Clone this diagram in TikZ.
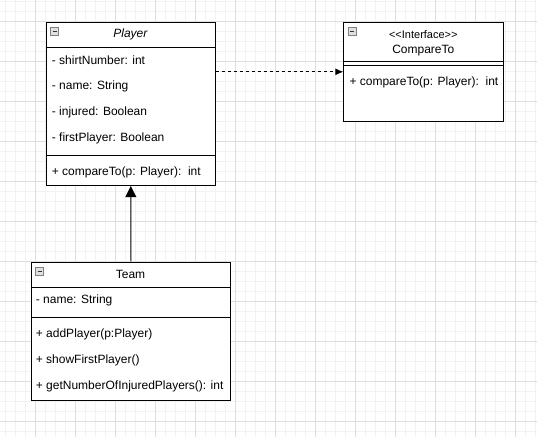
\documentclass[tikz,border=0pt]{standalone}
\usepackage{fontspec}
\setmainfont{Liberation Sans}
\usetikzlibrary{arrows.meta}
\tikzset{
  minorgrid/.style={draw=black!5,line width=0.8pt},
  majorgrid/.style={draw=black!13,line width=0.8pt},
  umlbox/.style={draw=black,line width=0.9pt,fill=white,anchor=north west,inner sep=0pt},
  rowtext/.style={anchor=west,inner sep=0pt,font=\fontsize{12}{14}\selectfont},
  minusicon/.style={draw=black!50,fill=black!12,line width=0.7pt,anchor=north west,
    minimum size=8pt,inner sep=0pt,
    path picture={\draw[black!80,line width=1pt]
      ([xshift=2pt]path picture bounding box.west) -- ([xshift=-2pt]path picture bounding box.east);}},
  sepline/.style={draw=black,line width=0.9pt}
}
\begin{document}
\begin{tikzpicture}[x=1pt,y=-1pt]
	\useasboundingbox (0,0) rectangle (537,437);
	\fill[white] (0,0) rectangle (537,437);
	% grid
	\foreach \g in {0,...,53} \draw[minorgrid] (5.7+10*\g,0) -- (5.7+10*\g,437);
	\foreach \g in {0,...,43} \draw[minorgrid] (0,1.7+10*\g) -- (537,1.7+10*\g);
	\foreach \g in {0,...,13} \draw[majorgrid] (-4.3+40*\g,0) -- (-4.3+40*\g,437);
	\foreach \g in {0,...,10} \draw[majorgrid] (0,21.7+40*\g) -- (537,21.7+40*\g);
	% Player
	\node[umlbox,minimum width=169.3pt,minimum height=163.5pt] (player) at (45.7,21.7) {};
	\node[minusicon] (playericon) at (50.3,26.7) {};
	\node[inner sep=0pt,font=\fontsize{12}{14}\selectfont\itshape] (playertitle) at (130.4,34.7) {Player};
	\draw[sepline] ([yshift=-26pt]player.north west) -- ([yshift=-26pt]player.north east);
	\draw[sepline] ([yshift=-134pt]player.north west) -- ([yshift=-134pt]player.north east);
	\node[rowtext] (pshirt) at (51.7,60.7) {- shirtNumber: int};
	\node[rowtext] (pname) at (51.7,86.7) {- name: String};
	\node[rowtext] (pinjured) at (51.7,112.7) {- injured: Boolean};
	\node[rowtext] (pfirst) at (51.7,138.7) {- firstPlayer: Boolean};
	\node[rowtext] (pcompare) at (51.7,172.7) {+ compareTo(p: Player):~~int};
	% CompareTo
	\node[umlbox,minimum width=160pt,minimum height=99.3pt] (iface) at (343.3,21.7) {};
	\node[minusicon] (ifaceicon) at (348,26.7) {};
	\node[inner sep=0pt,font=\fontsize{11}{13}\selectfont] (ifacestereo) at (423.3,35) {<\kern0pt<Interface>\kern0pt>};
	\node[inner sep=0pt,font=\fontsize{12}{14}\selectfont] (ifacetitle) at (423.3,50.5) {CompareTo};
	\draw[sepline] ([yshift=-40pt]iface.north west) -- ([yshift=-40pt]iface.north east);
	\draw[sepline] ([yshift=-43.3pt]iface.north west) -- ([yshift=-43.3pt]iface.north east);
	\node[rowtext] (icompare) at (349.3,82.7) {+ compareTo(p: Player):~~int};
	% Team
	\node[umlbox,minimum width=199.6pt,minimum height=138pt] (team) at (30.7,261.7) {};
	\node[minusicon] (teamicon) at (35.3,266.7) {};
	\node[inner sep=0pt,font=\fontsize{12}{14}\selectfont] (teamtitle) at (130.5,274.7) {Team};
	\draw[sepline] ([yshift=-26pt]team.north west) -- ([yshift=-26pt]team.north east);
	\draw[sepline] ([yshift=-56pt]team.north west) -- ([yshift=-56pt]team.north east);
	\node[rowtext] (tname) at (35.7,300.7) {- name: String};
	\node[rowtext] (tadd) at (35.7,334.7) {+ addPlayer(p:Player)};
	\node[rowtext] (tshow) at (35.7,360.7) {+ showFirstPlayer()};
	\node[rowtext] (tget) at (35.7,386.7) {+ getNumberOfInjuredPlayers(): int};
	% connectors
	\draw[line width=0.9pt,dash pattern=on 3pt off 3pt,-{Latex[length=8pt,width=7pt]}] (player.east |- iface.west) -- (iface.west);
	\draw[line width=0.9pt,-{Triangle[length=11pt,width=11pt]}] (team.north) -- (player.south);
\end{tikzpicture}
\end{document}
